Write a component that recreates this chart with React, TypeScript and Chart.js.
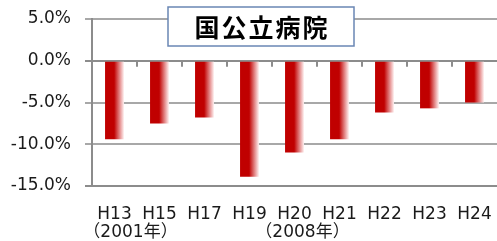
import React, { useEffect, useRef } from 'react';
import { Chart, registerables } from 'chart.js';

Chart.register(...registerables);

const periods = ['H13', 'H15', 'H17', 'H19', 'H20', 'H21', 'H22', 'H23', 'H24'];
const yearNotes = ['（2001年）', '', '', '', '（2008年）', '', '', '', ''];
const changeRates = [-9.4, -7.5, -6.8, -13.9, -11.0, -9.4, -6.2, -5.7, -5.0];
const yMin = -15;
const yMax = 5;
const yStep = 5;
const title = '国公立病院';

const FONT = '"DejaVu Sans", "Noto Sans CJK JP", sans-serif';
const BAR_PCT = 0.42;

const barGradient = (c: any) => {
  const chart = c.chart;
  const xs = chart.scales && chart.scales.x;
  if (!xs || c.dataIndex === undefined || !chart.chartArea) return '#C00000';
  const cx = xs.getPixelForValue(c.dataIndex);
  const w = (xs.width / periods.length) * BAR_PCT;
  const g = chart.ctx.createLinearGradient(cx - w / 2, 0, cx + w / 2, 0);
  g.addColorStop(0, '#C00000');
  g.addColorStop(0.48, '#C00000');
  g.addColorStop(1, '#FFF2F2');
  return g;
};

const decorPlugin = {
  id: 'decor',
  beforeDatasetsDraw(chart: any) {
    const ctx = chart.ctx;
    const xs = chart.scales.x;
    const ys = chart.scales.y;
    const zeroY = ys.getPixelForValue(0);
    ctx.save();
    ctx.strokeStyle = '#8c8c8c';
    ctx.lineWidth = 2;
    for (let i = 1; i < periods.length; i++) {
      const bx = (xs.getPixelForValue(i - 1) + xs.getPixelForValue(i)) / 2;
      ctx.beginPath();
      ctx.moveTo(bx, zeroY);
      ctx.lineTo(bx, zeroY + 6);
      ctx.stroke();
    }
    ctx.restore();
  },
  afterDraw(chart: any) {
    const ctx = chart.ctx;
    const xs = chart.scales.x;
    // year notes under the category labels
    ctx.save();
    ctx.fillStyle = '#1a1a1a';
    ctx.font = '17px "DejaVu Sans", "Noto Sans CJK JP", sans-serif';
    ctx.textAlign = 'center';
    ctx.textBaseline = 'top';
    yearNotes.forEach((note, i) => {
      if (!note) return;
      const shift = i === 0 ? 16 : 8;
      ctx.fillText(note, xs.getPixelForValue(i) + shift, chart.chartArea.bottom + 38);
    });
    ctx.restore();

    // title box
    const left = chart.chartArea.left + 76;
    const top = 7;
    const w = 186;
    const h = 39;
    ctx.save();
    ctx.fillStyle = '#ffffff';
    ctx.fillRect(left, top, w, h);
    ctx.strokeStyle = '#6a86b4';
    ctx.lineWidth = 1.5;
    ctx.strokeRect(left, top, w, h);
    ctx.fillStyle = '#000000';
    ctx.font = 'bold 25px "Noto Sans CJK JP", sans-serif';
    (ctx as any).letterSpacing = '2px';
    ctx.textAlign = 'center';
    ctx.textBaseline = 'middle';
    ctx.fillText(title, left + w / 2 + 1, top + h / 2 + 1);
    ctx.restore();
  },
};

export default function App() {
  const canvasRef = useRef<HTMLCanvasElement | null>(null);

  useEffect(() => {
    if (!canvasRef.current) return;
    const chart = new Chart(canvasRef.current, {
      type: 'bar',
      data: {
        labels: periods,
        datasets: [
          {
            data: changeRates,
            backgroundColor: barGradient,
            borderWidth: 0,
            barPercentage: BAR_PCT,
            categoryPercentage: 1,
          },
        ],
      },
      options: {
        animation: false,
        responsive: true,
        maintainAspectRatio: false,
        devicePixelRatio: 1,
        layout: { padding: { top: 19, right: 0, bottom: 0, left: 0 } },
        plugins: {
          legend: { display: false },
          tooltip: { enabled: false },
          title: { display: false },
        },
        scales: {
          x: {
            offset: true,
            grid: { display: false, drawTicks: false },
            border: { display: true, color: '#8c8c8c', width: 2 },
            ticks: {
              color: '#1a1a1a',
              font: { family: FONT, size: 17 },
              padding: 18,
              maxRotation: 0,
              minRotation: 0,
              autoSkip: false,
            },
            afterFit: (scale: any) => {
              scale.height = 55;
              scale.paddingLeft = 0;
              scale.paddingRight = 0;
            },
          },
          y: {
            min: yMin,
            max: yMax,
            grid: {
              color: (c: any) => (c.tick && (c.tick.value === 0 || c.tick.value === yMin) ? '#8c8c8c' : '#a8a8a8'),
              lineWidth: 2,
              tickLength: 7,
              drawTicks: true,
            },
            border: { display: true, color: '#8c8c8c', width: 2 },
            ticks: {
              stepSize: yStep,
              color: '#1a1a1a',
              font: { family: FONT, size: 17 },
              padding: 14,
              callback: (v: any) => Number(v).toFixed(1) + '%',
            },
            afterFit: (scale: any) => {
              scale.width = 92;
              scale.paddingTop = 0;
              scale.paddingBottom = 0;
            },
          },
        },
      },
      plugins: [decorPlugin],
    });
    return () => chart.destroy();
  }, []);

  return (
    <div style={{ position: 'fixed', left: 0, top: 0, width: 497, height: 241, overflow: 'hidden', background: '#fff' }}>
      <canvas ref={canvasRef} />
    </div>
  );
}
